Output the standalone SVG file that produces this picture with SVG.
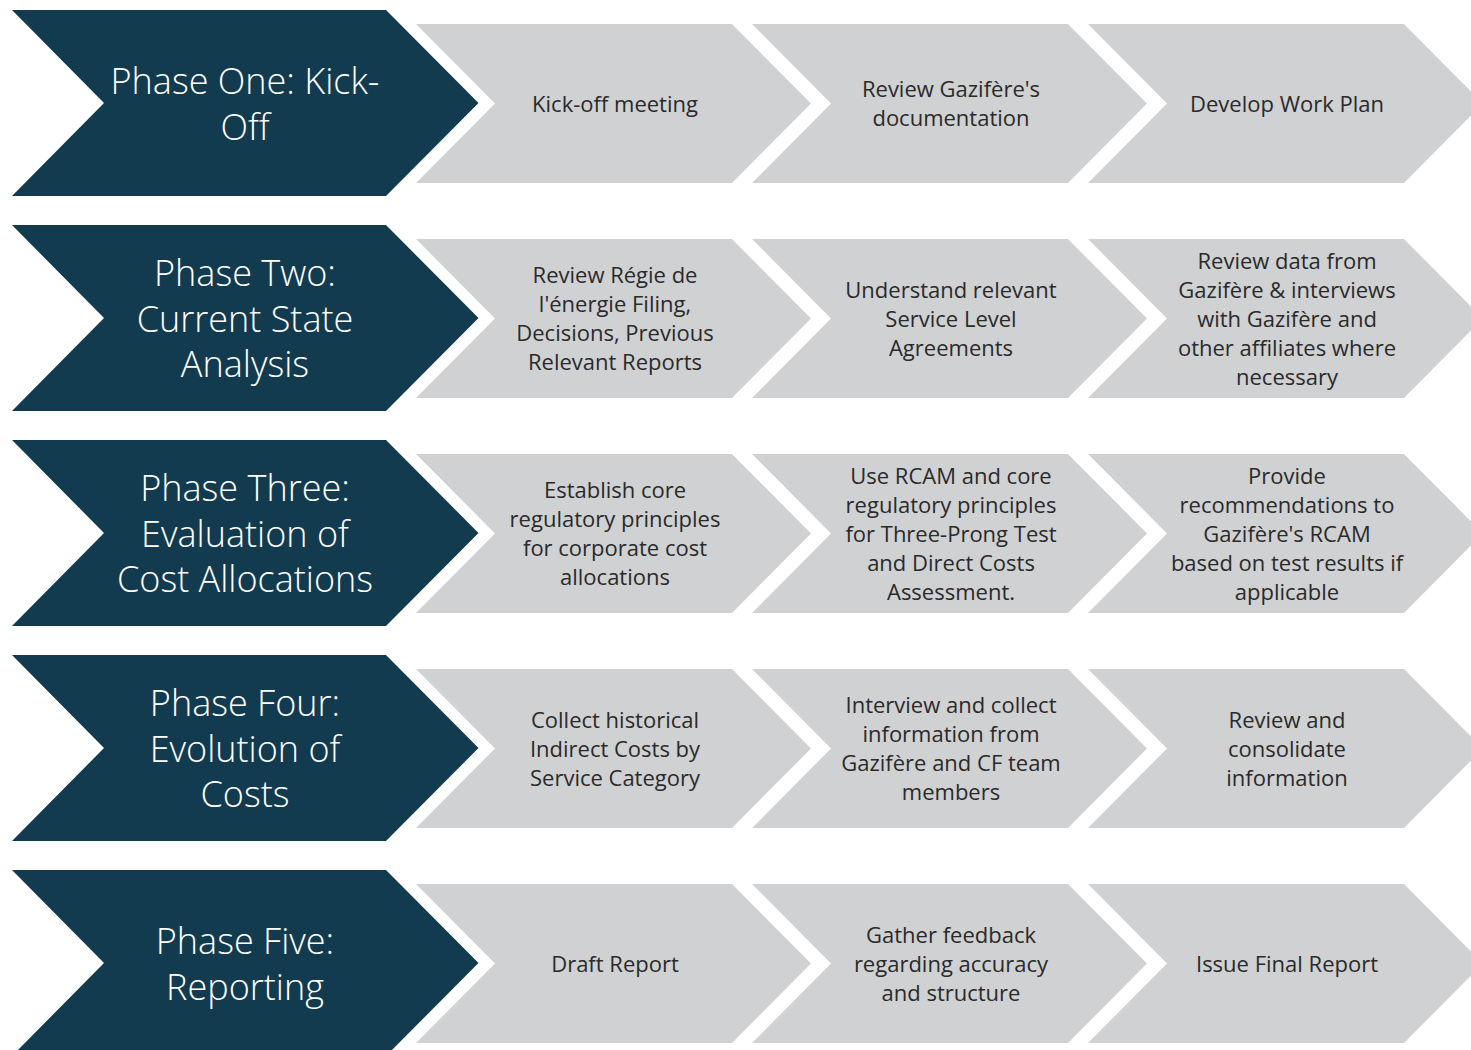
<svg xmlns="http://www.w3.org/2000/svg" width="1471" height="1050" viewBox="0 0 1471 1050">
  <style>
    .phase { fill: #123B4F; }
    .step { fill: #D0D1D3; }
    .phase-label { font-family: "Open Sans", "Noto Sans", sans-serif; font-weight: 300; font-size: 36px; fill: #FFFFFF; text-anchor: middle; }
    .step-label { font-family: "Open Sans", "Noto Sans", sans-serif; font-weight: 400; font-size: 22px; fill: #2A2A2A; text-anchor: middle; }
  </style>

  <!-- Row 1: Kick-off -->
  <g id="phase-one">
    <polygon class="phase" points="12,10 386,10 478.5,103 386,196 12,196 104,103"/>
    <text class="phase-label"><tspan x="245" y="94">Phase One: Kick-</tspan><tspan x="245" y="139.5">Off</tspan></text>
  </g>
  <g id="step-1-1">
    <polygon class="step" points="416,24 732,24 811,103.5 732,183 416,183 495,103.5"/>
    <text class="step-label"><tspan x="615" y="111.5">Kick-off meeting</tspan></text>
  </g>
  <g id="step-1-2">
    <polygon class="step" points="752,24 1068,24 1147,103.5 1068,183 752,183 831,103.5"/>
    <text class="step-label"><tspan x="951" y="97">Review Gazifère's</tspan><tspan x="951" y="126">documentation</tspan></text>
  </g>
  <g id="step-1-3">
    <polygon class="step" points="1088,24 1404,24 1483,103.5 1404,183 1088,183 1167,103.5"/>
    <text class="step-label"><tspan x="1287" y="111.5">Develop Work Plan</tspan></text>
  </g>

  <!-- Row 2: Current state analysis -->
  <g id="phase-two">
    <polygon class="phase" points="12,225 386,225 478.5,318 386,411 12,411 104,318"/>
    <text class="phase-label"><tspan x="245" y="286">Phase Two:</tspan><tspan x="245" y="331.5">Current State</tspan><tspan x="245" y="377">Analysis</tspan></text>
  </g>
  <g id="step-2-1">
    <polygon class="step" points="416,239 732,239 811,318.5 732,398 416,398 495,318.5"/>
    <text class="step-label"><tspan x="615" y="283">Review Régie de</tspan><tspan x="615" y="312">l'énergie Filing,</tspan><tspan x="615" y="341">Decisions, Previous</tspan><tspan x="615" y="370">Relevant Reports</tspan></text>
  </g>
  <g id="step-2-2">
    <polygon class="step" points="752,239 1068,239 1147,318.5 1068,398 752,398 831,318.5"/>
    <text class="step-label"><tspan x="951" y="297.5">Understand relevant</tspan><tspan x="951" y="326.5">Service Level</tspan><tspan x="951" y="355.5">Agreements</tspan></text>
  </g>
  <g id="step-2-3">
    <polygon class="step" points="1088,239 1404,239 1483,318.5 1404,398 1088,398 1167,318.5"/>
    <text class="step-label"><tspan x="1287" y="268.5">Review data from</tspan><tspan x="1287" y="297.5">Gazifère &amp; interviews</tspan><tspan x="1287" y="326.5">with Gazifère and</tspan><tspan x="1287" y="355.5">other affiliates where</tspan><tspan x="1287" y="384.5">necessary</tspan></text>
  </g>

  <!-- Row 3: Evaluation of cost allocations -->
  <g id="phase-three">
    <polygon class="phase" points="12,440 386,440 478.5,533 386,626 12,626 104,533"/>
    <text class="phase-label"><tspan x="245" y="501">Phase Three:</tspan><tspan x="245" y="546.5">Evaluation of</tspan><tspan x="245" y="592">Cost Allocations</tspan></text>
  </g>
  <g id="step-3-1">
    <polygon class="step" points="416,454 732,454 811,533.5 732,613 416,613 495,533.5"/>
    <text class="step-label"><tspan x="615" y="498">Establish core</tspan><tspan x="615" y="527">regulatory principles</tspan><tspan x="615" y="556">for corporate cost</tspan><tspan x="615" y="585">allocations</tspan></text>
  </g>
  <g id="step-3-2">
    <polygon class="step" points="752,454 1068,454 1147,533.5 1068,613 752,613 831,533.5"/>
    <text class="step-label"><tspan x="951" y="483.5">Use RCAM and core</tspan><tspan x="951" y="512.5">regulatory principles</tspan><tspan x="951" y="541.5">for Three-Prong Test</tspan><tspan x="951" y="570.5">and Direct Costs</tspan><tspan x="951" y="599.5">Assessment.</tspan></text>
  </g>
  <g id="step-3-3">
    <polygon class="step" points="1088,454 1404,454 1483,533.5 1404,613 1088,613 1167,533.5"/>
    <text class="step-label"><tspan x="1287" y="483.5">Provide</tspan><tspan x="1287" y="512.5">recommendations to</tspan><tspan x="1287" y="541.5">Gazifère's RCAM</tspan><tspan x="1287" y="570.5">based on test results if</tspan><tspan x="1287" y="599.5">applicable</tspan></text>
  </g>

  <!-- Row 4: Evolution of costs -->
  <g id="phase-four">
    <polygon class="phase" points="12,655 386,655 478.5,748 386,841 12,841 104,748"/>
    <text class="phase-label"><tspan x="245" y="716">Phase Four:</tspan><tspan x="245" y="761.5">Evolution of</tspan><tspan x="245" y="807">Costs</tspan></text>
  </g>
  <g id="step-4-1">
    <polygon class="step" points="416,669 732,669 811,748.5 732,828 416,828 495,748.5"/>
    <text class="step-label"><tspan x="615" y="727.5">Collect historical</tspan><tspan x="615" y="756.5">Indirect Costs by</tspan><tspan x="615" y="785.5">Service Category</tspan></text>
  </g>
  <g id="step-4-2">
    <polygon class="step" points="752,669 1068,669 1147,748.5 1068,828 752,828 831,748.5"/>
    <text class="step-label"><tspan x="951" y="713">Interview and collect</tspan><tspan x="951" y="742">information from</tspan><tspan x="951" y="771">Gazifère and CF team</tspan><tspan x="951" y="800">members</tspan></text>
  </g>
  <g id="step-4-3">
    <polygon class="step" points="1088,669 1404,669 1483,748.5 1404,828 1088,828 1167,748.5"/>
    <text class="step-label"><tspan x="1287" y="727.5">Review and</tspan><tspan x="1287" y="756.5">consolidate</tspan><tspan x="1287" y="785.5">information</tspan></text>
  </g>

  <!-- Row 5: Reporting -->
  <g id="phase-five">
    <polygon class="phase" points="12,870 386,870 478.5,963 386,1056 12,1056 104,963"/>
    <text class="phase-label"><tspan x="245" y="954">Phase Five:</tspan><tspan x="245" y="999.5">Reporting</tspan></text>
  </g>
  <g id="step-5-1">
    <polygon class="step" points="416,884 732,884 811,963.5 732,1043 416,1043 495,963.5"/>
    <text class="step-label"><tspan x="615" y="971.5">Draft Report</tspan></text>
  </g>
  <g id="step-5-2">
    <polygon class="step" points="752,884 1068,884 1147,963.5 1068,1043 752,1043 831,963.5"/>
    <text class="step-label"><tspan x="951" y="942.5">Gather feedback</tspan><tspan x="951" y="971.5">regarding accuracy</tspan><tspan x="951" y="1000.5">and structure</tspan></text>
  </g>
  <g id="step-5-3">
    <polygon class="step" points="1088,884 1404,884 1483,963.5 1404,1043 1088,1043 1167,963.5"/>
    <text class="step-label"><tspan x="1287" y="971.5">Issue Final Report</tspan></text>
  </g>
</svg>
